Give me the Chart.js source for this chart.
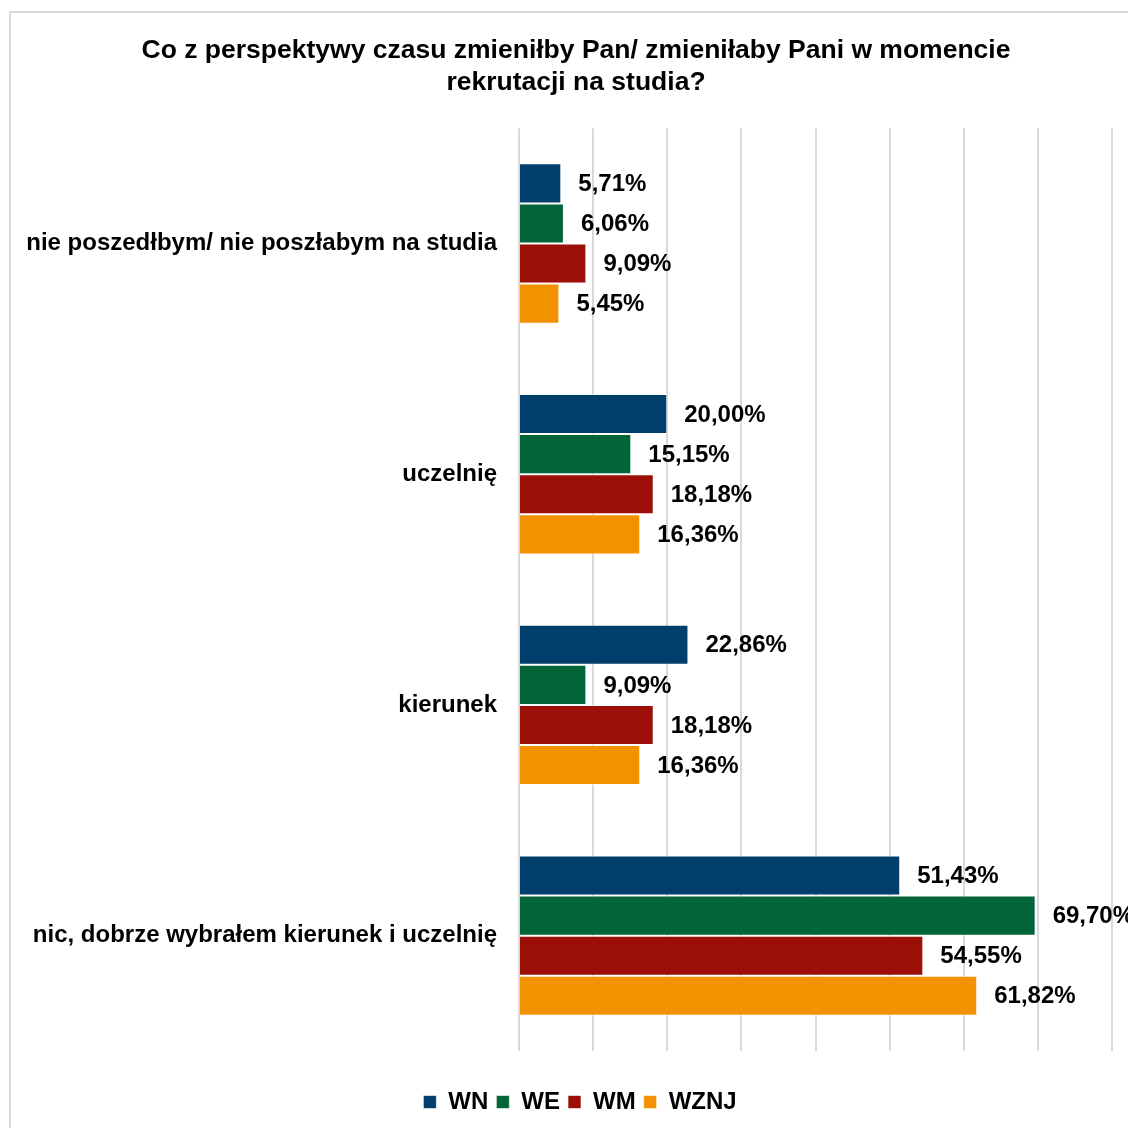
<!DOCTYPE html>
<html>
<head>
<meta charset="utf-8">
<script src="https://cdn.jsdelivr.net/npm/chart.js@4.4.1/dist/chart.umd.min.js"></script>
<style>
  html, body { margin: 0; padding: 0; background: #fff; overflow: hidden; }
  #frame {
    position: absolute; left: 9px; top: 11px; width: 1160px; height: 1160px;
    border: 2px solid #d9d9d9; box-sizing: border-box;
  }
  #wrap { position: absolute; left: 0; top: 0; width: 1128px; height: 1128px; }
</style>
</head>
<body>
<div id="frame"></div>
<div id="wrap"><canvas id="myChart" width="1128" height="1128"></canvas></div>
<script>
const categories = [
  "nie poszedłbym/ nie poszłabym na studia",
  "uczelnię",
  "kierunek",
  "nic, dobrze wybrałem kierunek i uczelnię",
];
const seriesNames = ["WN", "WE", "WM", "WZNJ"];
const valuesWN = [5.71, 20.0, 22.86, 51.43];
const valuesWE = [6.06, 15.15, 9.09, 69.7];
const valuesWM = [9.09, 18.18, 18.18, 54.55];
const valuesWZNJ = [5.45, 16.36, 16.36, 61.82];
const colors = ["#023e6c", "#02653a", "#9b0f07", "#f39200"];

const FONT = "'Liberation Sans', Arial, sans-serif";

// Draw the value next to the end of each bar
const valueLabels = {
  id: "valueLabels",
  afterDatasetsDraw(chart) {
    const ctx = chart.ctx;
    ctx.save();
    ctx.font = "bold 24px " + FONT;
    ctx.fillStyle = "#000";
    ctx.textAlign = "left";
    ctx.textBaseline = "middle";
    chart.data.datasets.forEach((ds, i) => {
      chart.getDatasetMeta(i).data.forEach((bar, j) => {
        const txt = ds.data[j].toFixed(2).replace(".", ",") + "%";
        ctx.fillText(txt, bar.x + 17, bar.y + 1);
      });
    });
    ctx.restore();
  },
};

// The original chart is wider than the crop, so title and legend sit a bit right of centre
const shiftBoxes = {
  id: "shiftBoxes",
  afterLayout(chart) {
    if (chart.legend) {
      chart.legend.left += 24;
      chart.legend.right += 24;
    }
    if (chart.titleBlock) {
      chart.titleBlock.left += 20;
      chart.titleBlock.right += 20;
    }
  },
};

const allValues = [valuesWN, valuesWE, valuesWM, valuesWZNJ];

new Chart(document.getElementById("myChart").getContext("2d"), {
  type: "bar",
  data: {
    labels: categories,
    datasets: seriesNames.map((name, i) => ({
      label: name,
      data: allValues[i],
      backgroundColor: colors[i],
      borderColor: "rgba(255,255,255,0.6)",
      borderWidth: 1,
      barPercentage: 1,
      categoryPercentage: 0.695,
    })),
  },
  options: {
    indexAxis: "y",
    responsive: false,
    animation: false,
    layout: { padding: { top: 0, right: 16, bottom: 4, left: 0 } },
    plugins: {
      title: {
        display: true,
        text: [
          "Co z perspektywy czasu zmieniłby Pan/ zmieniłaby Pani w momencie",
          "rekrutacji na studia?",
        ],
        color: "#000",
        font: { family: FONT, size: 26.5, weight: "bold", lineHeight: 1.21 },
        padding: { top: 35, bottom: 29 },
      },
      legend: {
        position: "bottom",
        labels: {
          color: "#000",
          font: { family: FONT, size: 24, weight: "bold" },
          boxWidth: 13,
          boxHeight: 13,
          padding: 8,
        },
      },
      tooltip: { enabled: false },
    },
    scales: {
      x: {
        min: 0,
        max: 80,
        ticks: { display: false, stepSize: 10 },
        grid: { color: "#d9d9d9", lineWidth: 2, drawTicks: false },
        border: { display: false },
        afterFit(scale) {
          scale.height = 31;
        },
      },
      y: {
        grid: { display: false, drawTicks: false },
        border: { display: false },
        ticks: {
          color: "#000",
          font: { family: FONT, size: 24, weight: "bold" },
          padding: 22,
        },
        afterFit(scale) {
          scale.width = 519;
        },
      },
    },
  },
  plugins: [valueLabels, shiftBoxes],
});
</script>
</body>
</html>
